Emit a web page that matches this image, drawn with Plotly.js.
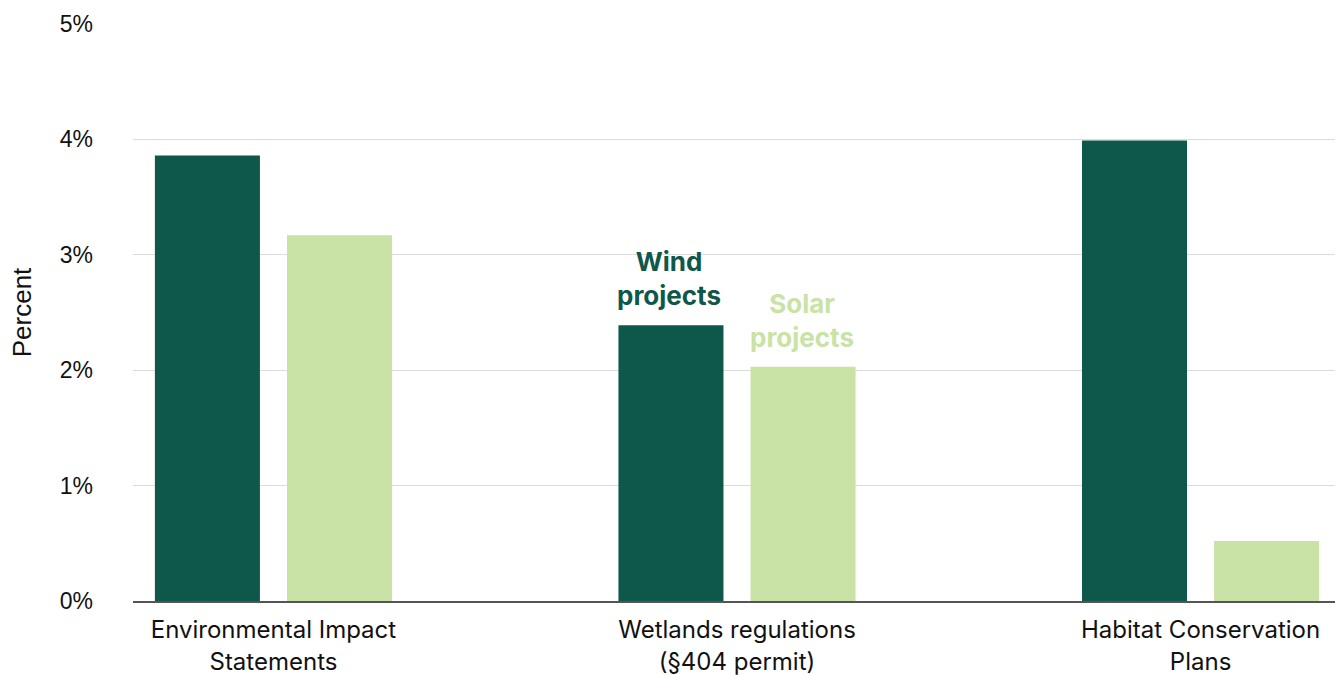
<!DOCTYPE html>
<html>
<head>
<meta charset="utf-8">
<script src="https://cdn.plot.ly/plotly-3.0.1.min.js"></script>
<style>html,body{margin:0;padding:0;background:#fff;}#chart{width:1341px;height:675px;}</style>
</head>
<body>
<div id="chart"></div>
<script>
const categories = ["Environmental Impact<br>Statements", "Wetlands regulations<br>(§404 permit)", "Habitat Conservation<br>Plans"];
const windValues = [3.86, 2.39, 3.99];
const solarValues = [3.17, 2.03, 0.52];
const yTickVals = [0, 1, 2, 3, 4, 5];
const yTickText = ["0%", "1%", "2%", "3%", "4%", "5%"];

const darkGreen = "#0e574b";
const lightGreen = "#c9e2a5";
const labelFont = "Inter, 'Noto Sans', sans-serif";

const traces = [
  {type: "bar", name: "Wind projects", x: categories, y: windValues, marker: {color: darkGreen}, hoverinfo: "skip"},
  {type: "bar", name: "Solar projects", x: categories, y: solarValues, marker: {color: lightGreen}, hoverinfo: "skip"}
];

const layout = {
  width: 1341, height: 675,
  margin: {l: 133, r: 6, t: 24, b: 74},
  paper_bgcolor: "#fff", plot_bgcolor: "#fff",
  showlegend: false,
  barmode: "group",
  bargap: 0.43,
  bargroupgap: 0.205,
  xaxis: {
    type: "category",
    range: [-0.303, 2.29],
    showgrid: false,
    showline: true, linecolor: "#555", linewidth: 1.5,
    ticks: "",
    tickfont: {family: labelFont, size: 24, color: "#111"},
    ticklabelstandoff: 7
  },
  yaxis: {
    range: [0, 5],
    tickvals: yTickVals, ticktext: yTickText,
    showgrid: true, gridcolor: "#dcdcdc", gridwidth: 1,
    zeroline: false, showline: false, ticks: "",
    tickfont: {family: "'Liberation Sans', Arial, sans-serif", size: 23, color: "#111"},
    ticklabelstandoff: 39,
    title: {text: "Percent", font: {family: "'Liberation Sans', Arial, sans-serif", size: 26, color: "#111"}, standoff: 20}
  },
  annotations: [
    {xref: "x", yref: "y", x: categories[1], y: windValues[1], xshift: -68, yshift: 12, yanchor: "bottom", showarrow: false,
     text: "<b>Wind<br>projects</b>", font: {family: labelFont, size: 26, color: darkGreen}, align: "center"},
    {xref: "x", yref: "y", x: categories[1], y: solarValues[1], xshift: 65, yshift: 12, yanchor: "bottom", showarrow: false,
     text: "<b>Solar<br>projects</b>", font: {family: labelFont, size: 26, color: lightGreen}, align: "center"}
  ]
};

Plotly.newPlot("chart", traces, layout, {displayModeBar: false, staticPlot: true});
</script>
</body>
</html>
